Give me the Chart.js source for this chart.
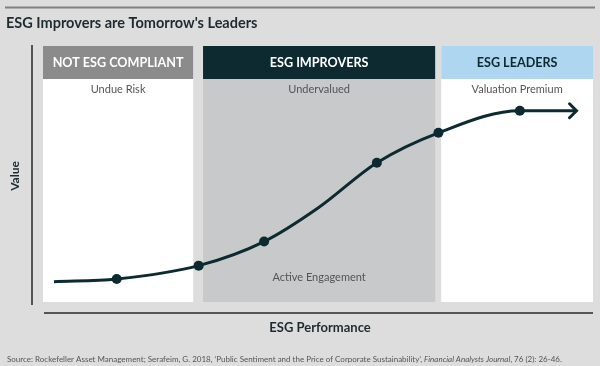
<!DOCTYPE html>
<html>
<head>
<meta charset="utf-8">
<script src="https://cdn.jsdelivr.net/npm/chart.js@4/dist/chart.umd.min.js"></script>
<style>
  body { margin: 0; background: #dddddd; }
  #wrap { width: 600px; height: 366px; }
</style>
</head>
<body>
<div id="wrap"><canvas id="myChart" width="600" height="366"></canvas></div>
<script>
// stages along ESG performance (0-100)
var stages = ['NOT ESG COMPLIANT', 'ESG IMPROVERS', 'ESG LEADERS'];
var stageNotes = ['Undue Risk', 'Undervalued', 'Valuation Premium'];
var stageStart = [0, 29.1, 72.4];
var stageEnd = [27.3, 71.3, 100];
var bottomNote = 'Active Engagement';

// the value curve
var performance = [2.0, 13.4, 28.3, 40.2, 50.0, 60.7, 71.9, 86.7, 97.0];
var value = [7.9, 9.0, 14.2, 23.6, 36.7, 54.4, 66.1, 74.7, 74.7];
var marked = [false, true, true, true, false, true, true, true, false];

var title = "ESG Improvers are Tomorrow's Leaders";
var xTitle = 'ESG Performance';
var yTitle = 'Value';
var source = 'Source: Rockefeller Asset Management; Serafeim, G. 2018, \u2018Public Sentiment and the Price of Corporate Sustainability\u2019, ';
var sourceJournal = 'Financial Analysts Journal';
var sourceEnd = ', 76 (2): 26-46.';

var dark = '#0c2a30';
var headerFill = ['#8b8b8b', dark, '#aed6f1'];
var headerText = ['#ffffff', '#ffffff', dark];
var bodyFill = ['#ffffff', '#c8c9cb', '#ffffff'];

var decor = {
    id: 'decor',
    beforeDraw: function(chart) {
        var c = chart.ctx;
        c.save();
        c.fillStyle = '#dddddd';
        c.fillRect(0, 0, chart.width, chart.height);

        // top rule
        c.strokeStyle = '#808080';
        c.lineWidth = 2;
        c.beginPath(); c.moveTo(5, 7.5); c.lineTo(595, 7.5); c.stroke();

        c.fillStyle = '#1d2a30';
        c.font = 'bold 14.5px Lato';
        c.textBaseline = 'alphabetic';
        c.textAlign = 'left';
        c.fillText(title, 6, 28);
        c.restore();
    },
    beforeDatasetsDraw: function(chart) {
        var c = chart.ctx;
        var area = chart.chartArea;
        var xs = chart.scales.x;
        c.save();
        for (var i = 0; i < stages.length; i++) {
            var x0 = xs.getPixelForValue(stageStart[i]);
            var x1 = xs.getPixelForValue(stageEnd[i]);
            c.fillStyle = bodyFill[i];
            c.fillRect(x0, area.top, x1 - x0, area.bottom - area.top);
            c.fillStyle = headerFill[i];
            c.fillRect(x0, area.top, x1 - x0, 33);
            c.fillStyle = headerText[i];
            c.font = 'bold 12.6px Lato';
            c.textAlign = 'center';
            c.textBaseline = 'middle';
            c.fillText(stages[i], (x0 + x1) / 2, area.top + 17);
            c.fillStyle = '#555555';
            c.font = '11px Lato';
            c.fillText(stageNotes[i], (x0 + x1) / 2, area.top + 43);
            if (i == 1) {
                c.fillText(bottomNote, (x0 + x1) / 2, area.bottom - 25);
            }
        }

        // axes
        c.strokeStyle = '#555555';
        c.lineWidth = 2;
        c.beginPath(); c.moveTo(32, area.top - 1); c.lineTo(32, area.bottom + 3); c.stroke();
        c.beginPath(); c.moveTo(area.left + 1, 313); c.lineTo(area.right, 313); c.stroke();

        c.fillStyle = '#1d2a30';
        c.font = 'bold 13px Lato';
        c.textAlign = 'center';
        c.textBaseline = 'middle';
        c.fillText(xTitle, (area.left + area.right) / 2 + 2, 328);
        c.save();
        c.translate(15, 176);
        c.rotate(-Math.PI / 2);
        c.font = 'bold 12px Lato';
        c.fillText(yTitle, 0, 0);
        c.restore();

        // source line
        c.fillStyle = '#555555';
        c.textAlign = 'left';
        c.textBaseline = 'alphabetic';
        var x = 7;
        c.font = '8px Lato';
        c.fillText(source, x, 362);
        x += c.measureText(source).width;
        c.font = 'italic 8px Lato';
        c.fillText(sourceJournal, x, 362);
        x += c.measureText(sourceJournal).width;
        c.font = '8px Lato';
        c.fillText(sourceEnd, x, 362);
        c.restore();
    },
    afterDatasetsDraw: function(chart) {
        var pts = chart.getDatasetMeta(0).data;
        var p = pts[pts.length - 1];
        var c = chart.ctx;
        c.save();
        c.strokeStyle = dark;
        c.lineWidth = 3;
        c.lineCap = 'round';
        c.beginPath();
        c.moveTo(p.x - 7, p.y - 7);
        c.lineTo(p.x, p.y);
        c.lineTo(p.x - 7, p.y + 7);
        c.stroke();
        c.restore();
    }
};

var points = performance.map(function(v, i) { return { x: v, y: value[i] }; });

var ctx = document.getElementById('myChart').getContext('2d');
var myChart = new Chart(ctx, {
    type: 'line',
    data: {
        datasets: [{
            data: points,
            borderColor: dark,
            borderWidth: 3,
            cubicInterpolationMode: 'monotone',
            pointRadius: marked.map(function(m) { return m ? 5 : 0; }),
            pointBackgroundColor: dark,
            pointBorderColor: dark,
            pointBorderWidth: 0
        }]
    },
    options: {
        responsive: false,
        animation: false,
        layout: {
            padding: { left: 43, right: 7, top: 46, bottom: 64 }
        },
        plugins: {
            legend: { display: false },
            tooltip: { enabled: false }
        },
        scales: {
            x: { type: 'linear', min: 0, max: 100, display: false },
            y: { min: 0, max: 100, display: false }
        }
    },
    plugins: [decor]
});
</script>
</body>
</html>
